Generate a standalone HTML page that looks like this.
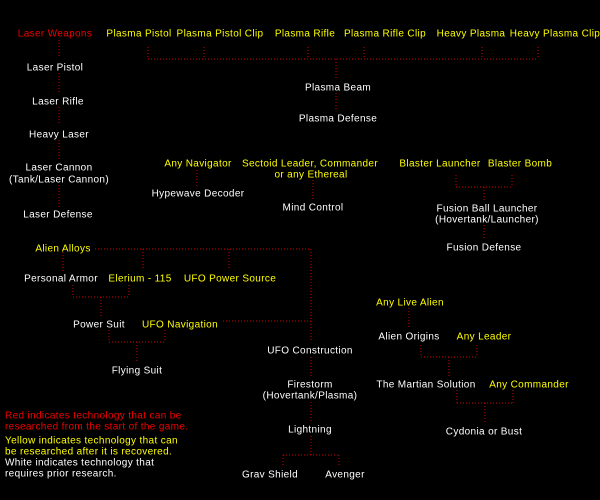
<!DOCTYPE html>
<html><head><meta charset="utf-8"><style>
html,body{margin:0;padding:0;background:#000;}
svg{display:block}
text{font-family:"Liberation Sans",sans-serif;font-size:10px;letter-spacing:0.35px;text-anchor:middle;fill:#fff;dominant-baseline:central}
.y{fill:#ffff00}.r{fill:#ee0000}
.l{text-anchor:start}
line{stroke:#d00000;stroke-width:1;stroke-dasharray:1 2;fill:none}
</style></head><body>
<svg width="600" height="500" viewBox="0 0 600 500">
<rect width="600" height="500" fill="#000"/>
<g>
<line x1="59" y1="40" x2="59" y2="58"/>
<line x1="59" y1="73" x2="59" y2="92"/>
<line x1="59" y1="107" x2="59" y2="125"/>
<line x1="59" y1="140" x2="59" y2="160"/>
<line x1="59" y1="185" x2="59" y2="207"/>
<line x1="148" y1="47" x2="148" y2="59"/><line x1="204" y1="47" x2="204" y2="59"/>
<line x1="308" y1="47" x2="308" y2="59"/><line x1="364" y1="47" x2="364" y2="59"/>
<line x1="482" y1="47" x2="482" y2="59"/><line x1="538" y1="47" x2="538" y2="59"/>
<line x1="148" y1="59" x2="538" y2="59"/>
<line x1="336" y1="59" x2="336" y2="80"/>
<line x1="336" y1="93" x2="336" y2="111"/>
<line x1="197" y1="170" x2="197" y2="187"/>
<line x1="313" y1="180" x2="313" y2="199"/>
<line x1="456" y1="175" x2="456" y2="187"/><line x1="512" y1="175" x2="512" y2="187"/>
<line x1="456" y1="187" x2="512" y2="187"/><line x1="484" y1="187" x2="484" y2="202"/>
<line x1="484" y1="225" x2="484" y2="238"/>
<line x1="95" y1="249" x2="311" y2="249"/>
<line x1="311" y1="249" x2="311" y2="342"/>
<line x1="63" y1="249" x2="63" y2="271"/><line x1="143" y1="249" x2="143" y2="270"/><line x1="229" y1="249" x2="229" y2="270"/>
<line x1="73" y1="285" x2="73" y2="297"/><line x1="129" y1="285" x2="129" y2="297"/>
<line x1="73" y1="297" x2="129" y2="297"/><line x1="101" y1="297" x2="101" y2="316"/>
<line x1="223" y1="321" x2="311" y2="321"/>
<line x1="109" y1="330" x2="109" y2="342"/><line x1="165" y1="330" x2="165" y2="342"/>
<line x1="109" y1="342" x2="165" y2="342"/><line x1="137" y1="342" x2="137" y2="362"/>
<line x1="311" y1="357" x2="311" y2="377"/>
<line x1="311" y1="402" x2="311" y2="422"/>
<line x1="311" y1="436" x2="311" y2="455"/>
<line x1="283" y1="455" x2="339" y2="455"/>
<line x1="283" y1="455" x2="283" y2="467"/><line x1="339" y1="455" x2="339" y2="467"/>
<line x1="409" y1="308" x2="409" y2="327"/>
<line x1="421" y1="345" x2="421" y2="357"/><line x1="477" y1="345" x2="477" y2="357"/>
<line x1="421" y1="357" x2="477" y2="357"/><line x1="449" y1="357" x2="449" y2="377"/>
<line x1="457" y1="390" x2="457" y2="403"/><line x1="513" y1="390" x2="513" y2="403"/>
<line x1="457" y1="403" x2="513" y2="403"/><line x1="485" y1="403" x2="485" y2="423"/>
</g>
<g transform="translate(0,1)">
<text class="r" x="55" y="33">Laser Weapons</text>
<text class="y" x="139" y="33">Plasma Pistol</text>
<text class="y" x="220" y="33">Plasma Pistol Clip</text>
<text class="y" x="305" y="33">Plasma Rifle</text>
<text class="y" x="385" y="33">Plasma Rifle Clip</text>
<text class="y" x="471" y="33">Heavy Plasma</text>
<text class="y" x="555" y="33">Heavy Plasma Clip</text>
<text x="55" y="67">Laser Pistol</text>
<text x="58" y="101">Laser Rifle</text>
<text x="59" y="134">Heavy Laser</text>
<text x="59" y="167">Laser Cannon</text>
<text x="59" y="179">(Tank/Laser Cannon)</text>
<text x="58" y="214">Laser Defense</text>
<text x="338" y="87">Plasma Beam</text>
<text x="338" y="118">Plasma Defense</text>
<text class="y" x="198" y="163">Any Navigator</text>
<text x="198" y="193">Hypewave Decoder</text>
<text class="y" x="310" y="163">Sectoid Leader, Commander</text>
<text class="y" x="311" y="174">or any Ethereal</text>
<text x="313" y="207">Mind Control</text>
<text class="y" x="440" y="163">Blaster Launcher</text>
<text class="y" x="520" y="163">Blaster Bomb</text>
<text x="487" y="208">Fusion Ball Launcher</text>
<text x="487" y="219">(Hovertank/Launcher)</text>
<text x="484" y="247">Fusion Defense</text>
<text class="y" x="63" y="248">Alien Alloys</text>
<text x="61" y="278">Personal Armor</text>
<text class="y" x="140" y="278">Elerium - 115</text>
<text class="y" x="230" y="278">UFO Power Source</text>
<text x="99" y="324">Power Suit</text>
<text class="y" x="180" y="324">UFO Navigation</text>
<text x="137" y="370">Flying Suit</text>
<text x="310" y="350">UFO Construction</text>
<text x="310" y="384">Firestorm</text>
<text x="310" y="395">(Hovertank/Plasma)</text>
<text x="310" y="429">Lightning</text>
<text x="270" y="474">Grav Shield</text>
<text x="345" y="474">Avenger</text>
<text class="y" x="410" y="302">Any Live Alien</text>
<text x="409" y="336">Alien Origins</text>
<text class="y" x="484" y="336">Any Leader</text>
<text x="426" y="384">The Martian Solution</text>
<text class="y" x="529" y="384">Any Commander</text>
<text x="484" y="431">Cydonia or Bust</text>
<text class="r l" x="5" y="415">Red indicates technology that can be</text>
<text class="r l" x="5" y="426">researched from the start of the game.</text>
<text class="y l" x="5" y="440">Yellow indicates technology that can</text>
<text class="y l" x="5" y="451">be researched after it is recovered.</text>
<text class="l" x="5" y="462">White indicates technology that</text>
<text class="l" x="5" y="473">requires prior research.</text>
</g>
</svg>
</body></html>
